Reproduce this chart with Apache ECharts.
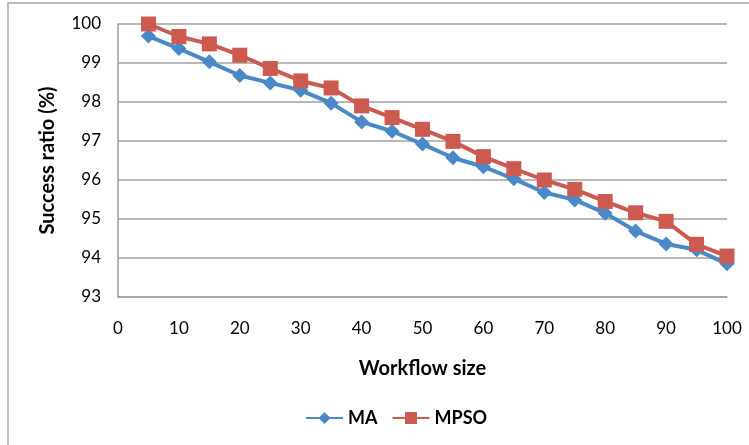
<!DOCTYPE html>
<html>
<head>
<meta charset="utf-8">
<script src="https://cdn.jsdelivr.net/npm/echarts@6/dist/echarts.min.js"></script>
<style>
  html, body { margin: 0; padding: 0; background: #fff; }
  #chart { width: 749px; height: 445px; }
</style>
</head>
<body>
<div id="chart"></div>
<script>
// workflow sizes (x)
const sizes = [5, 10, 15, 20, 25, 30, 35, 40, 45, 50, 55, 60, 65, 70, 75, 80, 85, 90, 95, 100]
// success ratio (%)
const maValues = [99.69, 99.37, 99.03, 98.68, 98.49, 98.3, 97.97, 97.49, 97.25, 96.92, 96.57, 96.34, 96.03, 95.68, 95.49, 95.15, 94.69, 94.36, 94.21, 93.85]
const mpsoValues = [100.0, 99.68, 99.49, 99.2, 98.86, 98.54, 98.36, 97.9, 97.6, 97.3, 96.99, 96.6, 96.29, 96.0, 95.76, 95.45, 95.16, 94.94, 94.35, 94.05]

const labelFont = 'Lato, "Open Sans", sans-serif'

const chart = echarts.init(document.getElementById('chart'))

const option = {
  animation: false,
  backgroundColor: '#fff',
  // outer frame of the chart area
  graphic: [
    {
      type: 'polyline',
      shape: { points: [[8, 445], [8, 3], [749, 3]] },
      style: { stroke: '#a6a6a6', lineWidth: 1.5, fill: null },
    },
  ],
  grid: { left: 118, right: 22, top: 24, bottom: 148 },
  legend: {
    bottom: 13,
    left: 300,
    itemWidth: 37,
    itemHeight: 15,
    itemGap: 14,
    textStyle: { fontFamily: labelFont, fontWeight: 'bold', fontSize: 18, color: '#000' },
    data: ['MA', 'MPSO'],
  },
  xAxis: {
    type: 'value',
    min: 0,
    max: 100,
    interval: 10,
    name: 'Workflow size',
    nameLocation: 'middle',
    nameGap: 62,
    nameTextStyle: { fontFamily: labelFont, fontWeight: 'bold', fontSize: 20, color: '#000' },
    axisLine: { show: true, lineStyle: { color: '#a0a0a0', width: 1.5 } },
    axisTick: { show: false },
    splitLine: { show: false },
    axisLabel: { margin: 23, fontFamily: labelFont, fontSize: 17, color: '#000' },
  },
  yAxis: {
    type: 'value',
    min: 93,
    max: 100,
    interval: 1,
    name: 'Success ratio (%)',
    nameLocation: 'middle',
    nameGap: 60,
    nameTextStyle: { fontFamily: labelFont, fontWeight: 'bold', fontSize: 20, color: '#000' },
    axisLine: { show: true, lineStyle: { color: '#a0a0a0', width: 1.5 } },
    axisTick: { show: false },
    splitLine: { lineStyle: { color: '#a0a0a0', width: 1.5 } },
    axisLabel: { margin: 17, fontFamily: labelFont, fontSize: 17, color: '#000' },
  },
  series: [
    {
      name: 'MA',
      type: 'line',
      data: sizes.map((s, i) => [s, maValues[i]]),
      symbol: 'diamond',
      symbolSize: 15,
      showAllSymbol: true,
      lineStyle: { color: '#4a89c8', width: 4 },
      itemStyle: { color: '#4a89c8' },
    },
    {
      name: 'MPSO',
      type: 'line',
      data: sizes.map((s, i) => [s, mpsoValues[i]]),
      symbol: 'rect',
      symbolSize: 15,
      showAllSymbol: true,
      lineStyle: { color: '#cd5a50', width: 4 },
      itemStyle: { color: '#cd5a50' },
    },
  ],
}

chart.setOption(option)
</script>
</body>
</html>
